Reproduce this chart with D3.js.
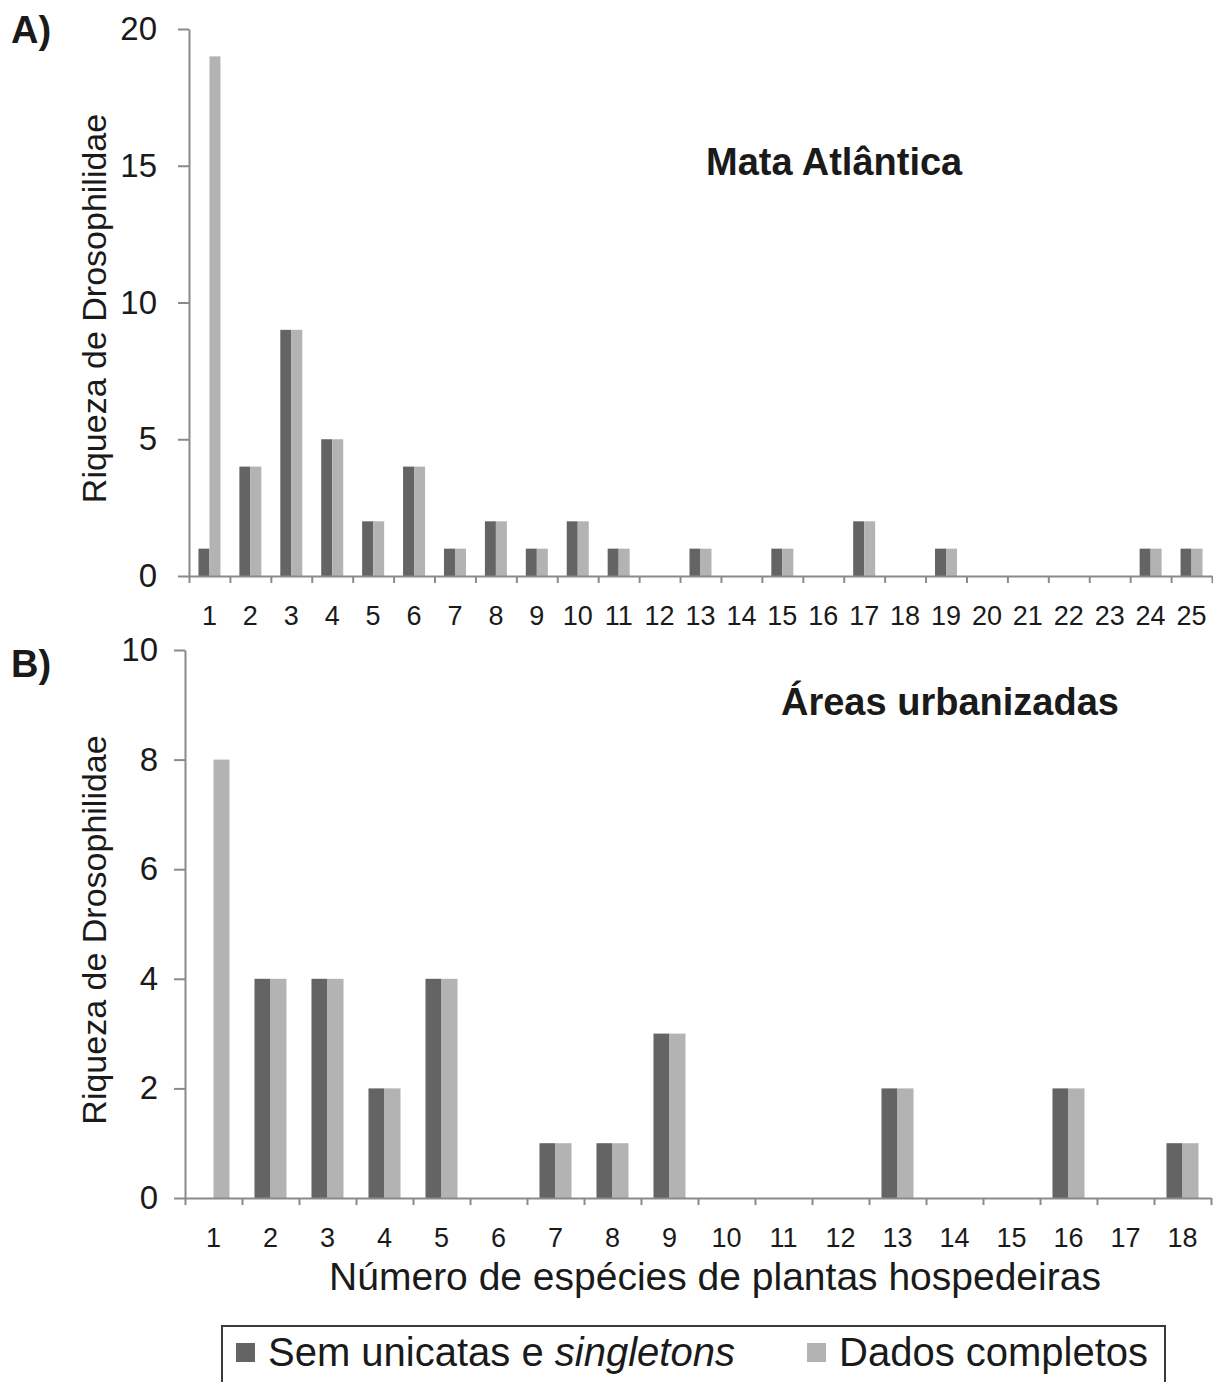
<!DOCTYPE html>
<html>
<head>
<meta charset="utf-8">
<script src="https://cdn.jsdelivr.net/npm/d3@7"></script>
<style>
  html, body { margin: 0; padding: 0; background: #fff; }
  svg { display: block; font-family: "Liberation Sans", Arial, Helvetica, sans-serif; }
</style>
</head>
<body>
<svg id="chart" width="1213" height="1382"></svg>
<script>
// ---------- data ----------
const seriesNames = ["Sem unicatas e singletons", "Dados completos"];
const seriesColors = ["#646464", "#b3b3b3"];

const categoriesA = ["1","2","3","4","5","6","7","8","9","10","11","12","13","14","15","16","17","18","19","20","21","22","23","24","25"];
const semUnicatasA = [1,4,9,5,2,4,1,2,1,2,1,0,1,0,1,0,2,0,1,0,0,0,0,1,1];
const dadosCompletosA = [19,4,9,5,2,4,1,2,1,2,1,0,1,0,1,0,2,0,1,0,0,0,0,1,1];
const yTicksA = [0,5,10,15,20];

const categoriesB = ["1","2","3","4","5","6","7","8","9","10","11","12","13","14","15","16","17","18"];
const semUnicatasB = [0,4,4,2,4,0,1,1,3,0,0,0,2,0,0,2,0,1];
const dadosCompletosB = [8,4,4,2,4,0,1,1,3,0,0,0,2,0,0,2,0,1];
const yTicksB = [0,2,4,6,8,10];

const panelLabels = ["A)", "B)"];
const panelTitles = ["Mata Atlântica", "Áreas urbanizadas"];
const yTitle = "Riqueza de Drosophilidae";
const xTitle = "Número de espécies de plantas hospedeiras";

// ---------- drawing ----------
const svg = d3.select("#chart");
const axisColor = "#8a8a8a";

function drawPanel(cfg) {
  const {cats, s1, s2, yMax, yTicks, left, right, top, bottom, barPad, yPad, label, title, labelY, titleX, titleY} = cfg;
  const g = svg.append("g");
  const x = d3.scaleBand().domain(cats).range([left, right]).padding(0);
  const xs = d3.scaleBand().domain(seriesNames).range([0, x.bandwidth()]).paddingInner(0).paddingOuter(barPad);
  const xb = d3.scaleLinear().domain([0, cats.length]).range([left, right]);
  const y = d3.scaleLinear().domain([0, yMax]).range([bottom, top]);

  const rows = cats.map((c, i) => ({cat: c, vals: [s1[i], s2[i]]}));

  // bars
  const groups = g.append("g").selectAll("g").data(rows).join("g")
    .attr("transform", d => `translate(${x(d.cat)},0)`);
  groups.selectAll("rect").data(d => d.vals.map((v, k) => ({v, k})))
    .join("rect")
    .attr("x", d => xs(seriesNames[d.k]))
    .attr("width", xs.bandwidth())
    .attr("y", d => y(d.v))
    .attr("height", d => bottom - y(d.v))
    .attr("fill", d => seriesColors[d.k]);

  // y axis
  const ya = g.append("g").attr("transform", `translate(${left},0)`)
    .call(d3.axisLeft(y).tickValues(yTicks).tickSize(11).tickSizeOuter(0).tickPadding(yPad));
  ya.selectAll("path, line").attr("stroke", axisColor).attr("stroke-width", 2);
  ya.selectAll("text").attr("font-size", 33).attr("fill", "#1a1a1a").attr("font-family", null);

  // x axis tick marks at band boundaries
  const xa = g.append("g").attr("transform", `translate(0,${bottom})`)
    .call(d3.axisBottom(xb).tickValues(d3.range(cats.length + 1)).tickFormat("").tickSize(7).tickSizeOuter(0));
  xa.selectAll("path, line").attr("stroke", axisColor).attr("stroke-width", 2);

  // x labels centered on bands
  const xl = g.append("g").attr("transform", `translate(0,${bottom})`)
    .call(d3.axisBottom(x).tickSize(0).tickPadding(30));
  xl.select(".domain").remove();
  xl.selectAll("text").attr("font-size", 27).attr("fill", "#1a1a1a").attr("font-family", null);

  // y title
  g.append("text")
    .attr("transform", `translate(94,${(top + bottom) / 2 + 6}) rotate(-90)`)
    .attr("text-anchor", "middle").attr("dy", "0.36em")
    .attr("font-size", 34).attr("fill", "#1a1a1a")
    .text(yTitle);

  // panel label
  g.append("text").attr("x", 11).attr("y", labelY)
    .attr("font-size", 38).attr("font-weight", "bold").attr("fill", "#1a1a1a")
    .text(label);

  // panel title
  g.append("text").attr("x", titleX).attr("y", titleY)
    .attr("font-size", 38).attr("font-weight", "bold").attr("fill", "#1a1a1a")
    .text(title);
}

drawPanel({cats: categoriesA, s1: semUnicatasA, s2: dadosCompletosA, yMax: 20, yTicks: yTicksA,
  left: 189, right: 1212, top: 29, bottom: 576, barPad: 0.86, yPad: 21,
  label: panelLabels[0], title: panelTitles[0], labelY: 43, titleX: 706, titleY: 175});

drawPanel({cats: categoriesB, s1: semUnicatasB, s2: dadosCompletosB, yMax: 10, yTicks: yTicksB,
  left: 185, right: 1211, top: 650, bottom: 1198, barPad: 0.78, yPad: 16,
  label: panelLabels[1], title: panelTitles[1], labelY: 677, titleX: 781, titleY: 715});

// x title
svg.append("text").attr("x", 715).attr("y", 1290)
  .attr("text-anchor", "middle").attr("font-size", 39).attr("fill", "#1a1a1a")
  .text(xTitle);

// legend
const lg = svg.append("g");
lg.append("rect").attr("x", 222).attr("y", 1326).attr("width", 943).attr("height", 90)
  .attr("fill", "none").attr("stroke", "#3a3a3a").attr("stroke-width", 2);
const legendItems = [
  {x: 236, name: seriesNames[0], color: seriesColors[0]},
  {x: 807, name: seriesNames[1], color: seriesColors[1]}
];
legendItems.forEach((it, i) => {
  lg.append("rect").attr("x", it.x).attr("y", 1343).attr("width", 19).attr("height", 19).attr("fill", it.color);
  const t = lg.append("text").attr("x", it.x + 32).attr("y", 1366).attr("font-size", 40).attr("fill", "#1a1a1a");
  if (i === 0) {
    t.append("tspan").text("Sem unicatas e ");
    t.append("tspan").attr("font-style", "italic").text("singletons");
  } else {
    t.text(it.name);
  }
});
</script>
</body>
</html>
